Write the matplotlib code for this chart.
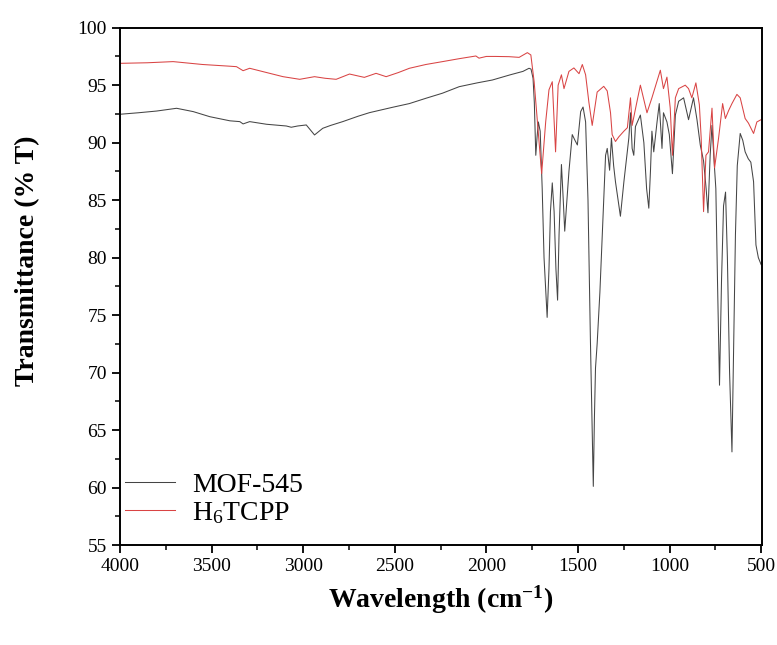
import matplotlib

matplotlib.use("Agg")
import matplotlib.pyplot as plt  # noqa: E402
from matplotlib.ticker import MultipleLocator  # noqa: E402

plt.rcParams["font.family"] = ["Liberation Serif", "DejaVu Serif"]
plt.rcParams["mathtext.fontset"] = "custom"
plt.rcParams["mathtext.rm"] = "Liberation Serif"
plt.rcParams["mathtext.it"] = "Liberation Serif:italic"
plt.rcParams["mathtext.bf"] = "Liberation Serif:bold"

# --- данные (волновое число, см^-1 / пропускание, %) ---
mof_wn = [4000, 3900, 3800, 3691, 3600, 3510, 3400, 3346, 3328, 3292, 3200, 3092,
          3065, 3030, 2983, 2938, 2893, 2850, 2784, 2700, 2638, 2511, 2420, 2330,
          2240, 2148, 2050, 1967, 1870, 1800, 1767, 1756, 1745, 1738, 1730, 1723,
          1716, 1706, 1695, 1685, 1668, 1658, 1650, 1640, 1630, 1620, 1611, 1603,
          1590, 1580, 1572, 1560, 1549, 1531, 1516, 1503, 1485, 1472, 1458, 1445,
          1432, 1416, 1410, 1404, 1395, 1380, 1367, 1349, 1340, 1327, 1317, 1305,
          1295, 1268, 1249, 1222, 1213, 1204, 1195, 1186, 1159, 1140, 1125, 1113,
          1104, 1096, 1086, 1068, 1056, 1041, 1033, 1014, 1001, 984, 968, 950,
          923, 896, 869, 850, 832, 814, 800, 790, 778, 768, 757, 747, 738, 727,
          716, 705, 694, 684, 672, 659, 650, 640, 630, 614, 600, 587, 570, 556,
          541, 528, 515, 500]
mof_t = [92.47, 92.6, 92.75, 92.99, 92.7, 92.26, 91.9, 91.83, 91.63, 91.83, 91.6, 91.45,
         91.34, 91.45, 91.54, 90.67, 91.25, 91.5, 91.83, 92.3, 92.61, 93.08, 93.4, 93.86,
         94.3, 94.87, 95.2, 95.45, 95.9, 96.2, 96.47, 96.4, 95.6, 93.5, 88.9, 90.5,
         91.8, 91.0, 86.0, 80.0, 74.8, 79.0, 84.0, 86.5, 84.0, 79.0, 76.3, 82.0,
         88.1, 85.0, 82.3, 85.0, 87.5, 90.7, 90.2, 89.8, 92.7, 93.1, 91.8, 85.0,
         73.0, 60.1, 66.0, 70.4, 72.5, 77.0, 82.0, 88.9, 89.5, 87.6, 90.4, 88.0,
         86.6, 83.6, 86.6, 90.4, 92.6, 89.5, 88.9, 91.4, 92.4, 90.0, 86.0, 84.3,
         87.5, 91.0, 89.2, 91.8, 93.4, 89.5, 92.6, 91.8, 90.7, 87.3, 92.4, 93.6,
         93.9, 92.0, 93.9, 92.0, 89.8, 88.4, 86.0, 83.9, 88.9, 91.5, 88.5, 86.0, 78.0, 68.9,
         78.0, 84.5, 85.7, 80.0, 70.0, 63.1, 72.0, 82.0, 88.0, 90.8, 90.2, 89.2, 88.6, 88.3,
         86.6, 81.1, 80.0, 79.4]

tcpp_wn = [4000, 3850, 3710, 3550, 3400, 3364, 3328, 3292, 3200, 3110, 3019, 2938,
           2880, 2820, 2747, 2700, 2666, 2602, 2547, 2480, 2420, 2330, 2239, 2150,
           2057, 2040, 2000, 1950, 1876, 1821, 1776, 1757, 1739, 1721, 1698, 1676,
           1658, 1640, 1622, 1608, 1590, 1576, 1549, 1522, 1494, 1476, 1458, 1440,
           1422, 1395, 1359, 1340, 1322, 1313, 1295, 1277, 1249, 1230, 1213, 1204,
           1185, 1159, 1123, 1096, 1050, 1033, 1014, 996, 984, 968, 950, 914,
           896, 878, 856, 837, 827, 814, 801, 787, 768, 754, 732, 710,
           695, 677, 659, 632, 614, 587, 569, 541, 523, 500]
tcpp_t = [96.9, 96.95, 97.05, 96.8, 96.65, 96.61, 96.26, 96.47, 96.1, 95.74, 95.51, 95.74,
          95.6, 95.51, 95.97, 95.8, 95.68, 96.03, 95.74, 96.1, 96.47, 96.8, 97.05, 97.3,
          97.54, 97.35, 97.5, 97.5, 97.48, 97.42, 97.83, 97.63, 95.3, 91.8, 87.3, 91.8,
          94.6, 95.3, 89.2, 95.0, 95.9, 94.7, 96.2, 96.5, 96.0, 96.8, 95.9, 93.5,
          91.5, 94.4, 94.9, 94.5, 92.6, 90.7, 90.1, 90.5, 91.0, 91.3, 93.9, 91.5,
          93.0, 95.0, 92.6, 93.9, 96.3, 94.7, 95.7, 93.0, 88.9, 93.9, 94.7, 95.0,
          94.7, 93.9, 95.2, 93.3, 90.4, 84.0, 88.9, 89.2, 93.0, 87.8, 90.4, 93.4,
          92.1, 92.8, 93.4, 94.2, 93.9, 92.1, 91.7, 90.8, 91.8, 92.0]

labels = ["MOF-545", r"H$_6$TCPP"]

fig = plt.figure(figsize=(7.77, 6.45), dpi=100, facecolor="white")
ax = fig.add_axes([120 / 777, 1 - 545 / 645, 642 / 777, 517.3 / 645])

ax.plot(mof_wn, mof_t, color="#454545", lw=0.75, label=labels[0])
ax.plot(tcpp_wn, tcpp_t, color="#d94444", lw=0.75, label=labels[1])

ax.set_xlim(4000, 495)
ax.set_ylim(55, 100)
ax.xaxis.set_major_locator(MultipleLocator(500))
ax.xaxis.set_minor_locator(MultipleLocator(250))
ax.yaxis.set_major_locator(MultipleLocator(5))
ax.yaxis.set_minor_locator(MultipleLocator(2.5))

for s in ax.spines.values():
    s.set_linewidth(1.4)
ax.tick_params(which="major", direction="out", length=6, width=1.3, labelsize=14,
               top=False, right=False)
ax.tick_params(which="minor", direction="out", length=3.5, width=1.1,
               top=False, right=False)

ax.set_xlabel(r"Wavelength (cm$^{\mathbf{-1}}$)", fontsize=20, fontweight="bold")
ax.set_ylabel("Transmittance (% T)", fontsize=20, fontweight="bold")
ax.xaxis.set_label_coords(0.5, -0.075)
ax.yaxis.set_label_coords(-0.125, 0.55)

ax.legend(loc="upper left", bbox_to_anchor=(0.008, 0.14), frameon=False,
          fontsize=20, handlelength=1.8, handletextpad=0.6, labelspacing=0.08,
          borderaxespad=0, borderpad=0)

fig.savefig("out.png", dpi=100, facecolor="white")
